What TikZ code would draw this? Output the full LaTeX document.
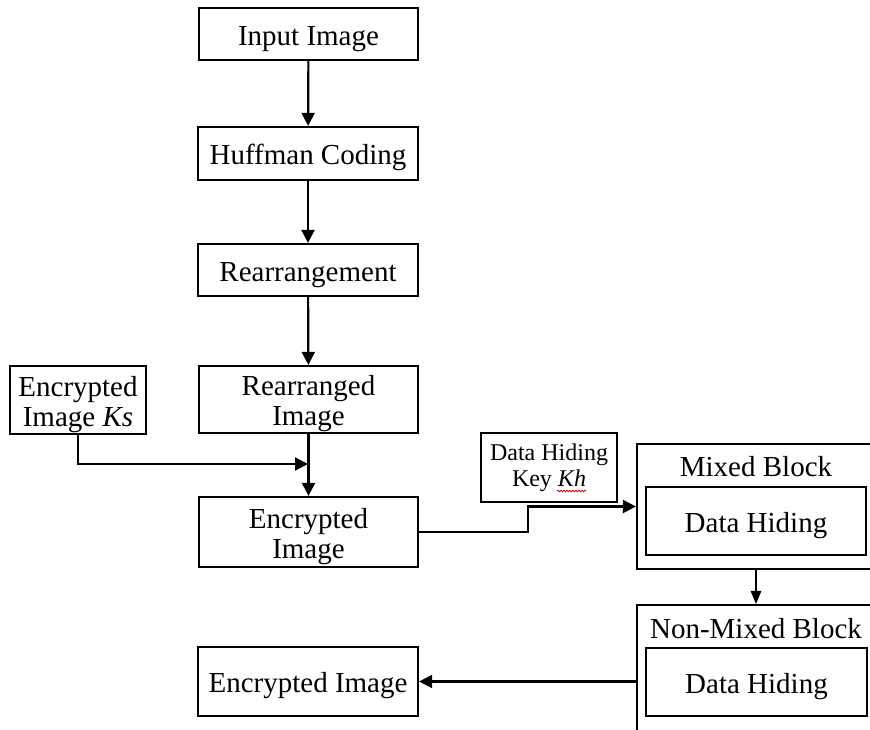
\documentclass[tikz,border=0pt]{standalone}
\usepackage{fontspec}
\setmainfont{Liberation Serif}
\usetikzlibrary{arrows.meta,decorations.pathmorphing}

% raises the first line's height so the text sits a little low in its box
\newcommand{\toplift}{\rule{0pt}{28.5pt}}

\tikzset{
  x=1pt, y=-1pt,
  box/.style={draw, line width=2.2pt, inner sep=0pt, align=center,
              font=\fontsize{29}{30}\selectfont},
  keybox/.style={draw, line width=2.2pt, inner sep=0pt, align=center,
              font=\fontsize{24}{26}\selectfont},
  frame/.style={draw, line width=2.2pt, inner sep=0pt},
  lbl/.style={anchor=base, inner sep=0pt, font=\fontsize{29}{30}\selectfont},
  arr/.style={line width=2.2pt, -{Triangle[length=13pt,width=13pt]}},
  arrthin/.style={line width=1.6pt, -{Triangle[length=13pt,width=10.5pt]}},
}

\begin{document}
\begin{tikzpicture}
\useasboundingbox (0,0) rectangle (870,730);
\clip (0,0) rectangle (870,730);

% main pipeline
\node[box, minimum width=219pt, minimum height=52pt] (in)    at (308.5,34)   {\toplift Input Image};
\node[box, minimum width=220pt, minimum height=53pt] (huff)  at (308,153.5)  {\toplift Huffman Coding};
\node[box, minimum width=220pt, minimum height=52pt] (rearr) at (308,270)    {\toplift Rearrangement};
\node[box, minimum width=219pt, minimum height=67pt] (rimg)  at (308.5,399.5){\toplift Rearranged\\Image};
\node[box, minimum width=136pt, minimum height=68pt] (ks)    at (78,400)     {\toplift Encrypted\\Image \textit{Ks}};
\node[box, minimum width=219pt, minimum height=70pt] (eimg)  at (308.5,532)  {\toplift Encrypted\\Image};
\node[keybox, minimum width=136pt, minimum height=69pt] (key) at (549,467.5) {Data Hiding\\Key \textit{Kh}};
\node[box, minimum width=220pt, minimum height=69pt] (final) at (308,681.5)  {\toplift Encrypted Image};

% mixed block
\node[frame, minimum width=238pt, minimum height=125pt] (mixed) at (756,506.5) {};
\node[lbl] (mixedlbl) at (756,476) {Mixed Block};
\node[box, minimum width=220pt, minimum height=68pt] (mixdh) at (756,521) {\toplift Data Hiding};

% non-mixed block
\node[frame, minimum width=238pt, minimum height=132pt] (nonmixed) at (756,671) {};
\node[lbl] (nonmixedlbl) at (756,638) {Non-Mixed Block};
\node[box, minimum width=221pt, minimum height=68pt] (nmdh) at (756.5,682) {\toplift Data Hiding};

% spell-check underline beneath Kh
\draw[red!85!black, line width=0.8pt, decorate,
      decoration={snake, amplitude=0.8pt, segment length=3pt}]
  (557,491) -- (586,491);

% connectors
\draw[arr] (in) -- (huff);
\draw[arr] (huff) -- (rearr);
\draw[arr] (rearr) -- (rimg);
\draw[arr] (rimg) -- (eimg);

\coordinate (ksjoin) at (308,464);
\draw[arr] (ks.south) |- (ksjoin);

\coordinate (step) at (528,532);
\draw[arr] (eimg.east |- step) -- (step) |- (mixed.west);

\draw[arrthin] (mixed.south) -- (nonmixed.north);
\draw[arr] (nonmixed.west |- final.east) -- (final.east);
\end{tikzpicture}
\end{document}
